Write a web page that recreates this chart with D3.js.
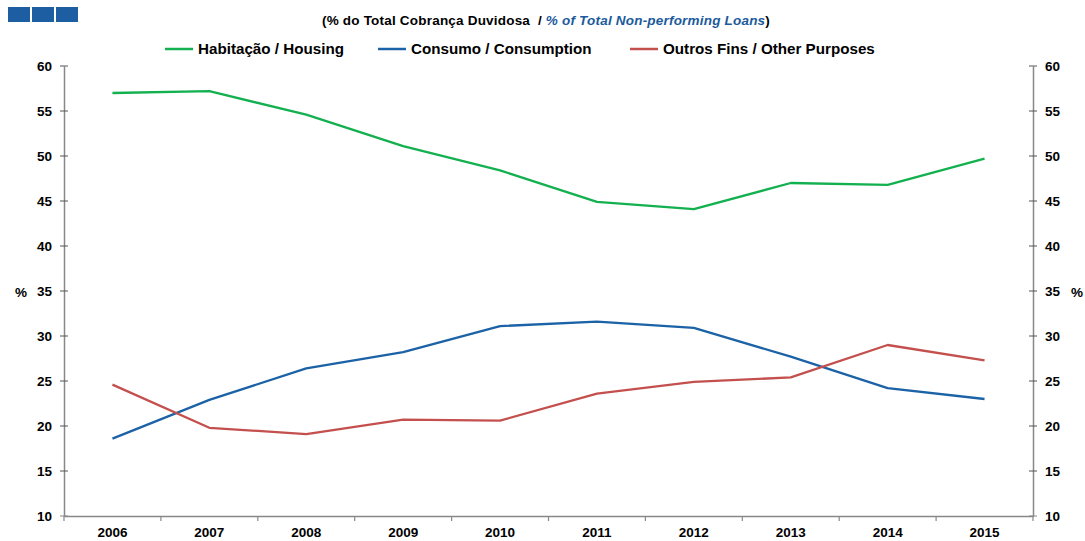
<!DOCTYPE html>
<html><head><meta charset="utf-8">
<script src="https://cdn.jsdelivr.net/npm/d3@7"></script>
<style>body{margin:0;background:#fff}svg{display:block}text{font-family:"Liberation Sans",Arial,sans-serif}</style>
</head><body>
<svg id="c" width="1085" height="541"></svg>
<script>
const years = ["2006","2007","2008","2009","2010","2011","2012","2013","2014","2015"];
const housing = [57.0,57.2,54.6,51.1,48.4,44.9,44.1,47.0,46.8,49.7];
const consumption = [18.6,22.9,26.4,28.2,31.1,31.6,30.9,27.7,24.2,23.0];
const other = [24.6,19.8,19.1,20.7,20.6,23.6,24.9,25.4,29.0,27.3];
const yTicks = [10,15,20,25,30,35,40,45,50,55,60];
const seriesNames = ["Habitação / Housing","Consumo / Consumption","Outros Fins / Other Purposes"];
const colors = ["#13b04f","#1b62a6","#c4504e"];

const svg = d3.select("#c");
const L = 64, R = 1033, T = 66, B = 516;
const x = d3.scaleBand().domain(years).range([L, R]);
const y = d3.scaleLinear().domain([10, 60]).range([B, T]);

// logo squares
svg.selectAll("rect.logo").data([0,1,2]).enter().append("rect")
  .attr("x", d => 8 + d*24).attr("y", 7).attr("width", 22).attr("height", 15).attr("fill", "#1d5ea3");

// subtitle
const st = svg.append("text").attr("x", 546).attr("y", 25).attr("text-anchor","middle")
  .attr("font-size", 13.5).attr("font-weight","bold").attr("letter-spacing", 0.2);
st.append("tspan").attr("fill","#000").attr("xml:space","preserve").text("(% do Total Cobrança Duvidosa  / ");
st.append("tspan").attr("fill","#1b5a9c").attr("font-style","italic").text("% of Total Non-performing Loans");
st.append("tspan").attr("fill","#000").text(")");

// legend
const legX = [165, 378, 630];
seriesNames.forEach((n,i) => {
  svg.append("line").attr("x1", legX[i]).attr("x2", legX[i]+28).attr("y1", 49).attr("y2", 49)
    .attr("stroke", colors[i]).attr("stroke-width", 2.5);
  svg.append("text").attr("x", legX[i]+33).attr("y", 54).attr("font-size", 15.2).attr("font-weight","bold")
    .attr("fill","#000").text(n);
});

// axes
const axCol = "#888";
const gl = svg.append("g").attr("transform", `translate(${L},0)`)
  .call(d3.axisLeft(y).tickValues(yTicks).tickSize(0).tickPadding(12));
const gr = svg.append("g").attr("transform", `translate(${R},0)`)
  .call(d3.axisRight(y).tickValues(yTicks).tickSize(0).tickPadding(12));
const gb = svg.append("g").attr("transform", `translate(0,${B})`)
  .call(d3.axisBottom(x).tickSize(0).tickPadding(10));
[gl, gr, gb].forEach(g => {
  g.select(".domain").attr("stroke", axCol).attr("stroke-width", 1.5);
  g.selectAll("text").attr("font-size", 13.5).attr("font-weight","bold").attr("fill","#000")
    .attr("font-family", '"Liberation Sans",Arial,sans-serif');
});
gb.selectAll("text").attr("dy", "0.8em");
// y tick crosses
[L, R].forEach(ax => {
  svg.selectAll(null).data(yTicks).enter().append("line")
    .attr("x1", ax-4).attr("x2", ax+4).attr("y1", d => y(d)).attr("y2", d => y(d))
    .attr("stroke", d => d === 10 ? axCol : "#555").attr("stroke-width", 1);
});
// x ticks at band boundaries
const bounds = years.map(d => x(d)).concat([R]);
svg.selectAll(null).data(bounds).enter().append("line")
  .attr("x1", d => d).attr("x2", d => d).attr("y1", B).attr("y2", B+5)
  .attr("stroke", axCol).attr("stroke-width", 1.2);

// % labels
svg.append("text").attr("x", 21).attr("y", 297).attr("text-anchor","middle").attr("font-size",13.5).attr("font-weight","bold").text("%");
svg.append("text").attr("x", 1077).attr("y", 297).attr("text-anchor","middle").attr("font-size",13.5).attr("font-weight","bold").text("%");

// lines
const line = d3.line().x((d,i) => x(years[i]) + x.bandwidth()/2).y(d => y(d));
[housing, consumption, other].forEach((s,i) => {
  svg.append("path").datum(s).attr("d", line).attr("fill","none")
    .attr("stroke", colors[i]).attr("stroke-width", 2.3).attr("stroke-linejoin","round");
});
</script>
</body></html>
